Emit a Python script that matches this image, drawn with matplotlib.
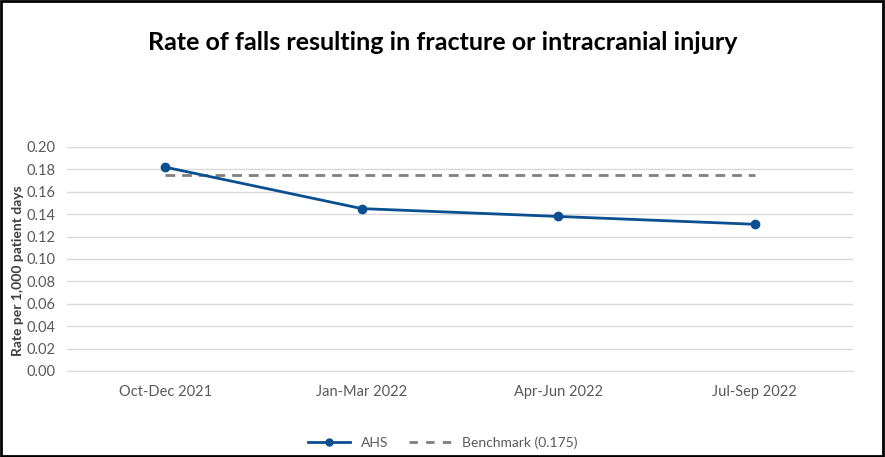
import matplotlib
matplotlib.use("Agg")
import matplotlib.pyplot as plt
from matplotlib.patches import Rectangle
from matplotlib.lines import Line2D

categories = ["Oct-Dec 2021", "Jan-Mar 2022", "Apr-Jun 2022", "Jul-Sep 2022"]
ahs = [0.182, 0.145, 0.138, 0.131]
benchmark = [0.175, 0.175, 0.175, 0.175]
yticks = [0.00, 0.02, 0.04, 0.06, 0.08, 0.10, 0.12, 0.14, 0.16, 0.18, 0.20]

plt.rcParams['font.family'] = ['Lato', 'DejaVu Sans']

fig = plt.figure(figsize=(8.85, 4.57), dpi=100)
ax = fig.add_axes([67/885, 1-371/457, (853-67)/885, (371-147)/457])

x = list(range(len(categories)))
ax.plot(x, benchmark, color="#7f7f7f", lw=2, ls=(0, (3.5, 2.5)), zorder=2)
ax.plot(x, ahs, color="#0b4f91", lw=2, marker="o", ms=6, zorder=3)

ax.set_xlim(-0.5, 3.5)
ax.set_ylim(0, 0.2)
ax.set_yticks(yticks)
ax.set_yticklabels([f"{v:.2f}" for v in yticks], fontsize=10.5, color="#595959")
ax.set_xticks(x)
ax.set_xticklabels(categories, fontsize=10.5, color="#595959")
ax.tick_params(length=0, pad=8)
ax.tick_params(axis='x', pad=10)
ax.grid(axis='y', color="#d9d9d9", lw=1)
ax.set_axisbelow(True)
for s in ax.spines.values():
    s.set_visible(False)
ax.spines['bottom'].set_visible(True)
ax.spines['bottom'].set_color("#d9d9d9")

ax.set_ylabel("Rate per 1,000 patient days", fontsize=10, fontweight="bold", color="#404040")
ax.yaxis.set_label_coords((24 - 67) / 786, (371 - 271) / 224)

fig.text(0.5, 1-43/457, "Rate of falls resulting in fracture or intracranial injury",
         ha="center", va="center", fontsize=18, fontweight="bold", color="black")

handles = [
    Line2D([0], [0], color="#0b4f91", lw=2, marker="o", ms=5),
    Line2D([0], [0], color="#7f7f7f", lw=2, ls=(0, (3, 3))),
]
fig.legend(handles, ["AHS", "Benchmark (0.175)"], loc="center", bbox_to_anchor=(0.5, 1-443/457),
           ncol=2, frameon=False, fontsize=10, handlelength=3, columnspacing=1.5,
           labelcolor="#595959")

fig.patches.append(Rectangle((0.001, 0.002), 0.997, 0.996, transform=fig.transFigure,
                             fill=False, edgecolor="black", lw=2))

fig.savefig("out.png", dpi=100)
